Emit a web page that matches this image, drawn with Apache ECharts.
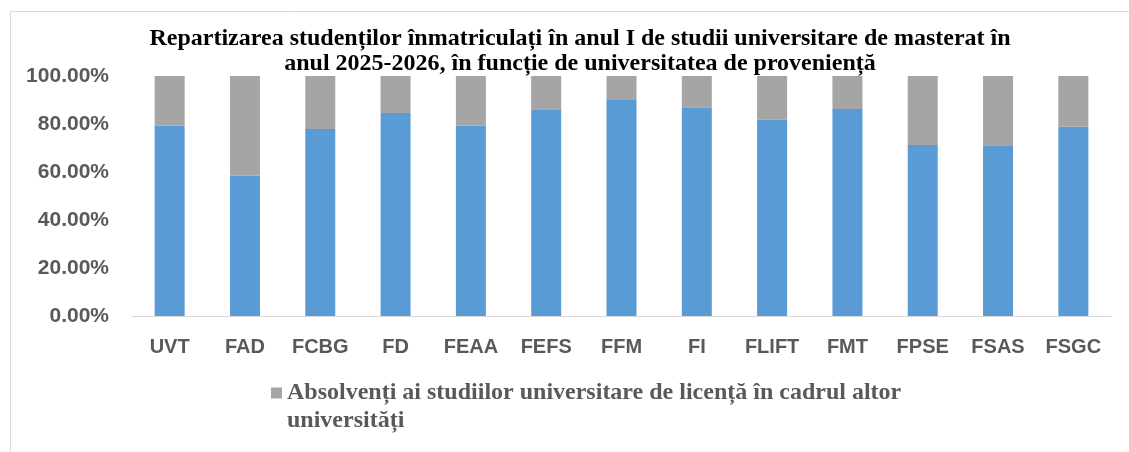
<!DOCTYPE html>
<html>
<head>
<meta charset="utf-8">
<script src="https://cdn.jsdelivr.net/npm/echarts@6/dist/echarts.min.js"></script>
<style>
  html, body { margin: 0; padding: 0; background: #fff; }
  #main { width: 1129px; height: 452px; }
</style>
</head>
<body>
<div id="main"></div>
<script>
// facultati
var categories = ['UVT', 'FAD', 'FCBG', 'FD', 'FEAA', 'FEFS', 'FFM', 'FI', 'FLIFT', 'FMT', 'FPSE', 'FSAS', 'FSGC']
// procente
var uvtShare = [79.3, 58.5, 77.9, 84.6, 79.3, 86.1, 90.0, 86.7, 81.8, 86.3, 71.3, 70.8, 78.9]
var otherShare = uvtShare.map(function (v) { return +(100 - v).toFixed(1) })
var yTicks = [0, 20, 40, 60, 80, 100]

var nameUvt = 'Absolvenți ai studiilor universitare de licență în cadrul UVT'
var nameOther = 'Absolvenți ai studiilor universitare de licență în cadrul altor universități'

var myChart = echarts.init(document.getElementById('main'))

myChart.setOption({
  animation: false,
  title: {
    text: 'Repartizarea studenților înmatriculați în anul I de studii universitare de masterat în\nanul 2025-2026, în funcție de universitatea de proveniență',
    left: 575,
    top: 21,
    textAlign: 'center',
    textStyle: {
      fontFamily: 'Liberation Serif',
      fontWeight: 'bold',
      fontSize: 24,
      lineHeight: 25,
      color: '#000'
    }
  },
  graphic: [{
    type: 'rect',
    shape: { x: 10.5, y: 11.5, width: 1140, height: 460 },
    style: { fill: 'none', stroke: '#d9d9d9', lineWidth: 1 },
    z: -1
  }],
  legend: {
    data: [nameOther],
    left: 266,
    top: 346,
    itemWidth: 11,
    itemHeight: 11,
    itemGap: 6,
    icon: 'rect',
    // linie goala in fata ca patratul sa stea langa primul rand
    formatter: function (n) {
      return ' \n' + n.replace(' altor ', ' altor\n')
    },
    textStyle: {
      fontFamily: 'Liberation Serif',
      fontWeight: 'bold',
      fontSize: 24,
      lineHeight: 28,
      color: '#595959'
    }
  },
  grid: {
    left: 132,
    right: 18,
    top: 76,
    bottom: 136
  },
  xAxis: {
    type: 'category',
    data: categories,
    axisLine: { lineStyle: { color: '#d9d9d9', width: 1 } },
    axisTick: { show: false },
    axisLabel: {
      interval: 0,
      margin: 21,
      fontFamily: 'Liberation Sans',
      fontWeight: 'bold',
      fontSize: 20,
      color: '#595959'
    }
  },
  yAxis: {
    type: 'value',
    min: 0,
    max: 100,
    interval: 20,
    splitLine: { show: false },
    axisLine: { show: false },
    axisTick: { show: false },
    axisLabel: {
      margin: 23,
      fontFamily: 'Liberation Sans',
      fontWeight: 'bold',
      fontSize: 21,
      color: '#595959',
      customValues: yTicks,
      formatter: function (v) { return v.toFixed(2) + '%' }
    }
  },
  series: [{
    name: nameUvt,
    type: 'bar',
    stack: 'total',
    barWidth: 30,
    data: uvtShare,
    itemStyle: { color: '#5b9bd5' }
  }, {
    name: nameOther,
    type: 'bar',
    stack: 'total',
    barWidth: 30,
    data: otherShare,
    itemStyle: { color: '#a5a5a5' }
  }]
})
</script>
</body>
</html>
